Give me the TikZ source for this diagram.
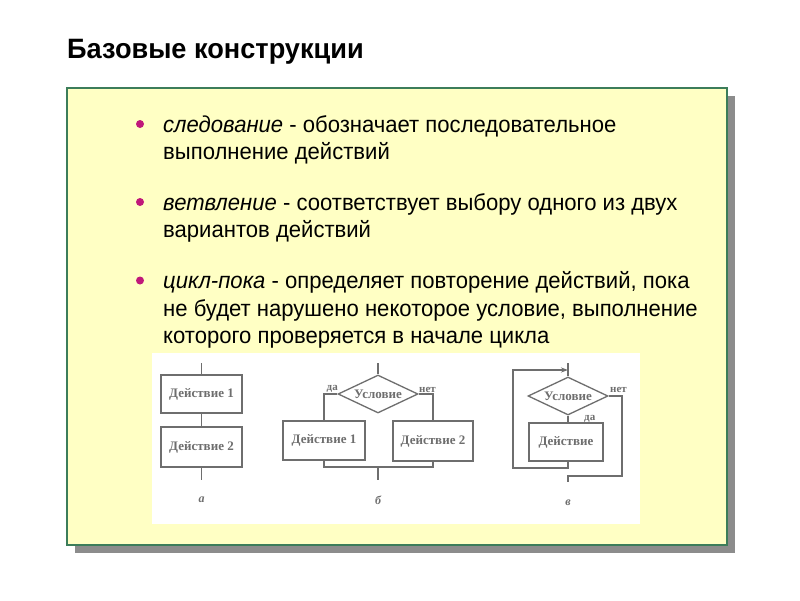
\documentclass[tikz,border=0pt]{standalone}
\usepackage{fontspec}
\setmainfont{Liberation Sans}
\newfontfamily\bodyfont[FakeStretch=0.96]{Liberation Sans}
\newfontfamily\titlefont[FakeStretch=0.97]{Liberation Sans}
\newfontfamily\dserif{Liberation Serif}
\usetikzlibrary{shapes.geometric,arrows.meta}
\definecolor{panelfill}{HTML}{FFFFC4}
\definecolor{panelborder}{HTML}{3C7D5A}
\definecolor{shadowgray}{HTML}{8C8C8C}
\definecolor{bulletmag}{HTML}{C0187A}
\definecolor{flowgray}{HTML}{6E6E6E}
\tikzset{
  txt/.style={anchor=base west, inner sep=0pt, font=\bodyfont\fontsize{23}{27}\selectfont},
  bul/.style={circle, fill=bulletmag, inner sep=0pt, minimum size=8pt},
  actbox/.style={draw=flowgray, line width=1.3pt, inner sep=0pt, text=flowgray, font=\dserif\bfseries\fontsize{13}{15}\selectfont},
  cond/.style={diamond, draw=flowgray, line width=1.3pt, inner sep=0pt, aspect=2, minimum width=80pt, minimum height=38pt, text=flowgray, font=\dserif\bfseries\fontsize{13}{15}\selectfont},
  flow/.style={draw=flowgray, line width=1.3pt},
  small/.style={inner sep=0pt, text=flowgray, font=\dserif\bfseries\fontsize{11}{13}\selectfont},
  sublabel/.style={inner sep=0pt, text=flowgray, font=\dserif\bfseries\itshape\fontsize{12}{14}\selectfont}
}
\begin{document}
\begin{tikzpicture}[x=1pt,y=-1pt]
\useasboundingbox (0,0) rectangle (800,600);
\fill[white] (0,0) rectangle (800,600);
% title
\node[anchor=base west, inner sep=0pt, font=\titlefont\bfseries\fontsize{28}{32}\selectfont] (title) at (67,58.5) {Базовые конструкции};
% panel
\fill[shadowgray] (75,96) rectangle (735,553);
\draw[fill=panelfill, draw=panelborder, line width=1.2pt] (67,88) rectangle (727,545);
% bullets
\node[bul] (b1) at (140,124) {};
\node[txt] (t11) at (163,132) {\textit{следование} - обозначает последовательное};
\node[txt] (t12) at (163,159.5) {выполнение действий};
\node[bul] (b2) at (140,202) {};
\node[txt] (t21) at (163,210) {\textit{ветвление} - соответствует выбору одного из двух};
\node[txt] (t22) at (163,237.5) {вариантов действий};
\node[bul] (b3) at (140,280.5) {};
\node[txt] (t31) at (163,288.5) {\textit{цикл-пока} - определяет повторение действий, пока};
\node[txt] (t32) at (163,316) {не будет нарушено некоторое условие, выполнение};
\node[txt] (t33) at (163,343) {которого проверяется в начале цикла};
% diagram background
\fill[white] (152,353) rectangle (640,524);
% diagram a
\coordinate (atop) at (201.5,363);
\node[actbox, minimum width=81pt, minimum height=38pt] (a1) at (201.5,394) {Действие 1};
\node[actbox, minimum width=81pt, minimum height=40pt] (a2) at (201.5,447) {Действие 2};
\coordinate (abot) at (201.5,480);
\draw[flow] (atop) -- (a1.north);
\draw[flow] (a1.south) -- (a2.north);
\draw[flow] (a2.south) -- (abot);
\node[sublabel] (la) at (201.5,500) {а};
% diagram b
\coordinate (btop) at (378,363);
\node[cond] (d2) at (378,394) {Условие};
\node[actbox, minimum width=82pt, minimum height=39pt] (bb1) at (324,440.5) {Действие 1};
\node[actbox, minimum width=80pt, minimum height=40pt] (bb2) at (433,441) {Действие 2};
\coordinate (bj) at (378,467);
\coordinate (bbot) at (378,480);
\draw[flow] (btop) -- (d2.north);
\draw[flow] (d2.west) -| (bb1.north);
\draw[flow] (d2.east) -| (bb2.north);
\draw[flow] (bb1.south) |- (bj) -| (bb2.south);
\draw[flow] (bj) -- (bbot);
\node[small, anchor=south east] (yes2) at (338,393) {да};
\node[small, anchor=south west] (no2) at (419,393) {нет};
\node[sublabel] (lb) at (378,500) {б};
% diagram c
\coordinate (ctop) at (568,363);
\node[cond] (d3) at (568,396) {Условие};
\node[actbox, minimum width=74pt, minimum height=38pt] (c1) at (566,442) {Действие};
\coordinate (cl) at (513,468);
\coordinate (cm) at (568,370);
\coordinate (ce) at (622,476);
\coordinate (cx) at (568,476);
\coordinate (cend) at (568,482);
\draw[flow] (ctop) -- (d3.north);
\draw[flow] (d3.south) -- (d3.south |- c1.north);
\draw[flow, -{Stealth[length=7pt,width=5pt]}] (c1.south -| d3.south) |- (cl) |- (cm);
\draw[flow] (d3.east) -| (ce) -- (cx) -- (cend);
\node[small, anchor=south west] (yes3) at (584,423) {да};
\node[small, anchor=south west] (no3) at (610,393) {нет};
\node[sublabel] (lc) at (568,503) {в};
\end{tikzpicture}
\end{document}
